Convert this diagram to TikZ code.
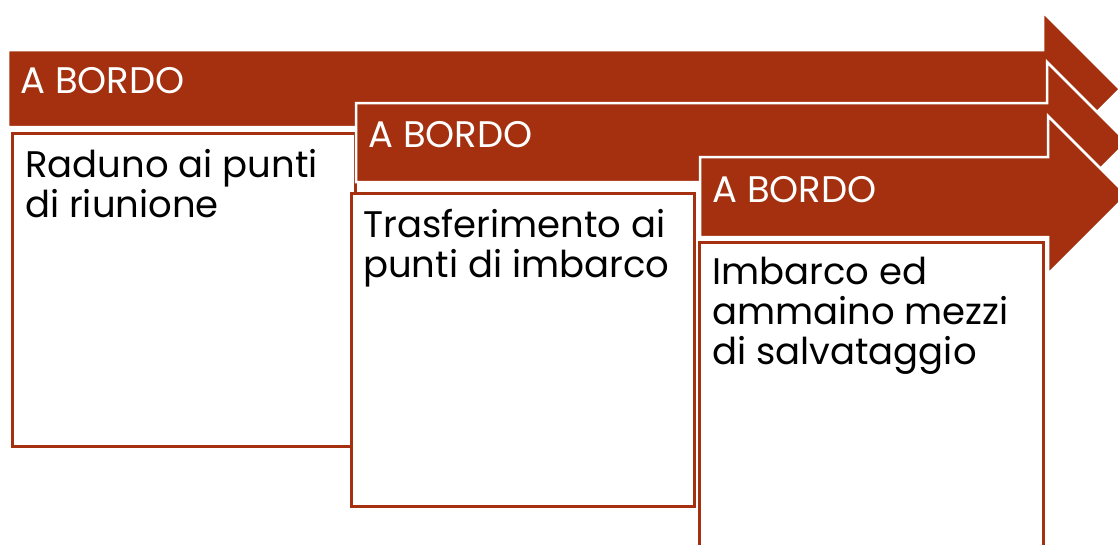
\documentclass[tikz,border=0pt]{standalone}
\usepackage{fontspec}
\setmainfont{Poppins}
\definecolor{rust}{HTML}{A5300F}
\tikzset{
  steparrow/.style={fill=rust, draw=white, line width=2.5pt},
  stepbox/.style={fill=white, draw=rust, line width=3pt},
  headtext/.style={anchor=base west, inner sep=0pt, text=white,
    font=\fontsize{37}{40}\selectfont},
  boxtext/.style={anchor=base west, inner sep=0pt, align=left,
    font=\fontsize{37}{40}\selectfont},
}

\begin{document}
\begin{tikzpicture}[x=1pt,y=-1pt]
  \useasboundingbox (0,0) rectangle (1118,544);
  \clip (0,0) rectangle (1118,544);
  % first step (box text is placed at its last baseline)
  \draw[steparrow] (8,50) -- (1043,50) -- (1043,12) -- (1120,89)
    -- (1043,166) -- (1043,127) -- (8,127) -- cycle;
  \draw[stepbox] (12,133) rectangle (355,446);
  \node[headtext] (head1) at (20,93) {A BORDO};
  \node[boxtext] (text1) at (25,217) {Raduno ai punti\\di riunione};
  % second step
  \draw[steparrow] (356,103) -- (1047,103) -- (1047,62) -- (1127,142)
    -- (1047,222) -- (1047,182) -- (356,182) -- cycle;
  \draw[stepbox] (351,193) rectangle (694,506);
  \node[headtext] (head2) at (368,147) {A BORDO};
  \node[boxtext] (text2) at (363,277) {Trasferimento ai\\punti di imbarco};
  % third step
  \draw[steparrow] (700,157) -- (1048,157) -- (1048,116) -- (1127,195)
    -- (1048,274) -- (1048,237) -- (700,237) -- cycle;
  \draw[stepbox] (699,242) rectangle (1043,560);
  \node[headtext] (head3) at (712,202) {A BORDO};
  \node[boxtext] (text3) at (712,364) {Imbarco ed\\ammaino mezzi\\di salvataggio};
\end{tikzpicture}
\end{document}
